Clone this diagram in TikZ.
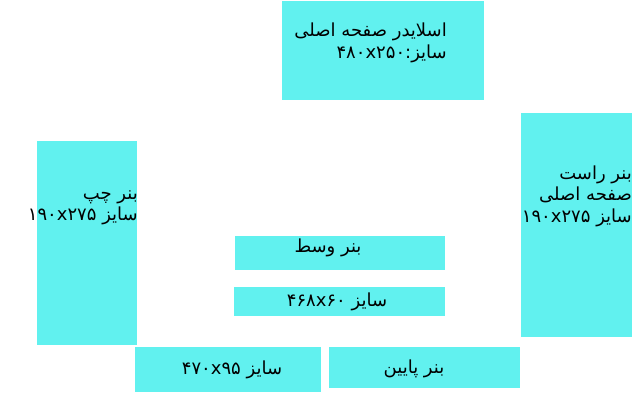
\documentclass[tikz,border=0pt]{standalone}
\usepackage{fontspec}
\TeXXeTstate=1
\newfontfamily\arabicfont[Script=Arabic]{DejaVu Sans}
\definecolor{boxcyan}{HTML}{61F1EF}
\tikzset{
  adbox/.style={fill=boxcyan, draw=none, inner sep=0pt, anchor=north west},
  adtext/.style={inner sep=0pt, font=\arabicfont\fontsize{18}{21.5}\selectfont, text=black}
}
\begin{document}
\begin{tikzpicture}[x=1pt,y=-1pt]
\useasboundingbox (0,0) rectangle (640,400);
% boxes
\node[adbox, minimum width=202pt, minimum height=99pt] (slider) at (282,1) {};
\node[adbox, minimum width=100pt, minimum height=204pt] (left) at (37,141) {};
\node[adbox, minimum width=111pt, minimum height=224pt] (right) at (521,113) {};
\node[adbox, minimum width=210pt, minimum height=34pt] (mid) at (235,236) {};
\node[adbox, minimum width=211pt, minimum height=29pt] (midsize) at (234,287) {};
\node[adbox, minimum width=186pt, minimum height=45pt] (botleft) at (135,347) {};
\node[adbox, minimum width=191pt, minimum height=41pt] (botright) at (329,347) {};
% texts
\node[adtext, align=right, anchor=east] (slidertxt) at (447,43)
  {\beginR اسلایدر صفحه اصلی\endR\\\beginR سایز:\beginL ۴۸۰x۲۵۰\endL\endR};
\node[adtext, align=right, anchor=east] (lefttxt) at (138,208)
  {\beginR بنر چپ\endR\\\beginR سایز \beginL ۱۹۰x۲۷۵\endL\endR};
\node[adtext, align=right, anchor=east] (righttxt) at (632,196)
  {\beginR بنر راست\endR\\\beginR صفحه اصلی\endR\\\beginR سایز \beginL ۱۹۰x۲۷۵\endL\endR};
\node[adtext] (midtxt) at (328,248) {\beginR بنر وسط\endR};
\node[adtext] (midsizetxt) at (337,302) {\beginR سایز \beginL ۴۶۸x۶۰\endL\endR};
\node[adtext] (botlefttxt) at (232,370) {\beginR سایز \beginL ۴۷۰x۹۵\endL\endR};
\node[adtext] (botrighttxt) at (414,369) {\beginR بنر پایین\endR};
\end{tikzpicture}
\end{document}
